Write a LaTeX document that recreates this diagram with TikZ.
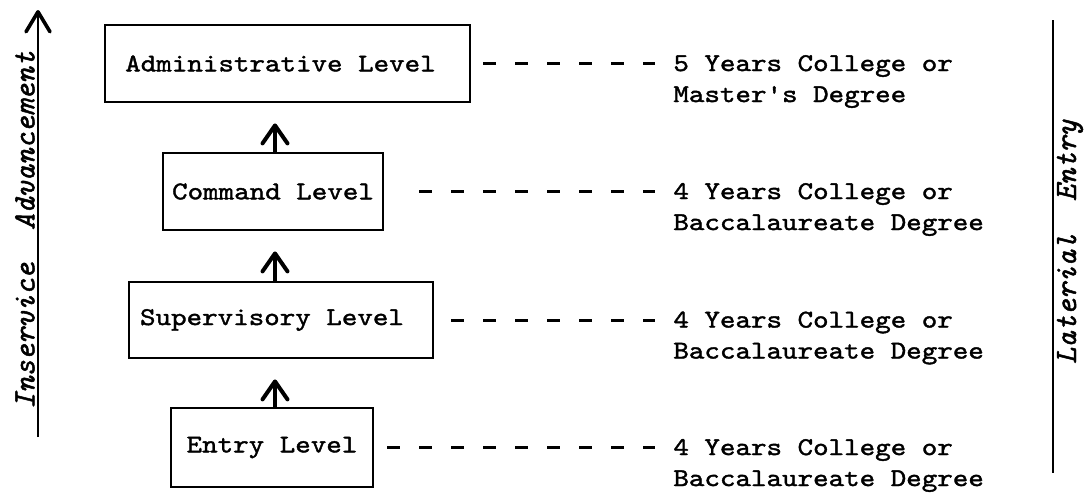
\documentclass[tikz,border=0pt]{standalone}
\usepackage{fontspec}
\usetikzlibrary{arrows.meta,calc}
% typewriter faces for the chart
\newfontfamily\tw{lmmono10-regular.otf}[FakeStretch=1.155,FakeBold=1.5]
\newfontfamily\twit{lmmono10-italic.otf}[FakeBold=1.5]

\begin{document}
\begin{tikzpicture}[x=0.5pt,y=-0.5pt,
  every node/.style={font=\tw\fontsize{12.8}{15.5}\selectfont, inner sep=0pt},
  levelbox/.style={draw, line width=1.4pt},
  degree/.style={anchor=west, align=left},
  sidelabel/.style={font=\twit\fontsize{15.5}{18}\selectfont, rotate=90},
  uparrow/.style={line width=1.6pt, -{Straight Barb[length=9pt,width=12.5pt,line width=2pt,line cap=round,line join=round]}, shorten >=10pt},
  dashline/.style={line width=1.5pt, dash pattern=on 6.5pt off 9.5pt},
  axisline/.style={line width=1pt}
]
% page area
\fill[white] (0,0) rectangle (1092,498);
\useasboundingbox (0,0) rectangle (1092,498);

% career levels
\node[levelbox, minimum width=182.5pt, minimum height=38.5pt] (adm) at (287.5,63.5) {Administrative Level\kern7pt};
\node[levelbox, minimum width=110pt, minimum height=38.5pt] (cmd) at (273,191.5) {Command Level};
\node[levelbox, minimum width=152pt, minimum height=38pt] (sup) at (281,320) {Supervisory Level\kern9pt};
\node[levelbox, minimum width=101pt, minimum height=39.5pt] (ent) at (272,447.5) {Entry Level};

% promotion arrows
\coordinate (spine) at (275,0);
\draw[uparrow] (cmd.north -| spine) -- (adm.south -| spine);
\draw[uparrow] (sup.north -| spine) -- (cmd.south -| spine);
\draw[uparrow] (ent.north -| spine) -- (sup.south -| spine);

% education requirements
\node[degree] (r1) at (673,81.5) {5 Years College or\\Master's Degree};
\node[degree] (r2) at (673,209.5) {4 Years College or\\Baccalaureate Degree};
\node[degree] (r3) at (673,338) {4 Years College or\\Baccalaureate Degree};
\node[degree] (r4) at (673,465.5) {4 Years College or\\Baccalaureate Degree};

\draw[dashline] ($(adm.east)+(12,0)$) -- ($(r1.west |- adm.east)+(-18,0)$);
\draw[dashline] ($(cmd.east)+(35,0)$) -- ($(r2.west |- cmd.east)+(-18,0)$);
\draw[dashline] ($(sup.east)+(17,0)$) -- ($(r3.west |- sup.east)+(-18,0)$);
\draw[dashline] ($(ent.east)+(13,0)$) -- ($(r4.west |- ent.east)+(-18,0)$);

% side axes
\coordinate (lbot) at (38,437);
\coordinate (ltop) at (38,10);
\draw[axisline, -{Straight Barb[length=10pt,width=12pt,line width=1.8pt,line cap=round,line join=round]}] (lbot) -- (ltop);
\node[sidelabel, anchor=south] (insv) at (35,230) {Inservice\ \ Advancement};

\coordinate (rtop) at (1053,20);
\coordinate (rbot) at (1053,473);
\draw[axisline] (rtop) -- (rbot);
\node[sidelabel, anchor=base] (lat) at (1076,242) {Laterial\ \ Entry};
\end{tikzpicture}
\end{document}
